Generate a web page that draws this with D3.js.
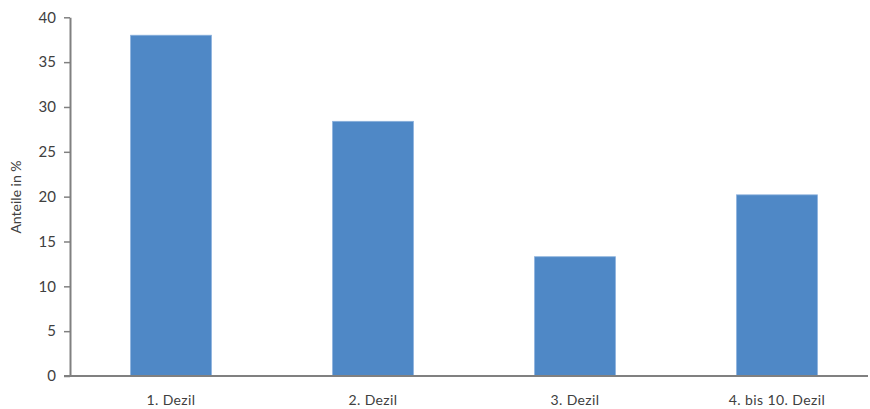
<!DOCTYPE html>
<html><head><meta charset="utf-8">
<script src="https://cdn.jsdelivr.net/npm/d3@7"></script>
<style>body{margin:0;background:#fff}svg{display:block}text{font-family:"Lato","Open Sans",sans-serif;fill:#404040}</style>
</head><body><svg id="c" width="870" height="409"></svg>
<script>
const categories = ["1. Dezil", "2. Dezil", "3. Dezil", "4. bis 10. Dezil"];
const values = [38.0, 28.4, 13.3, 20.2];
const yTicks = [0, 5, 10, 15, 20, 25, 30, 35, 40];
const yLabel = "Anteile in %";

const svg = d3.select("#c");
const x = d3.scaleBand().domain(categories).range([70, 878]).paddingInner(0.6).paddingOuter(0.3);
const y = d3.scaleLinear().domain([0, 40]).range([376, 17.3]);

svg.selectAll("rect.bar").data(values).join("rect").attr("class","bar")
  .attr("x", (d,i) => x(categories[i])).attr("width", x.bandwidth())
  .attr("y", d => y(d)).attr("height", d => y(0) - y(d))
  .attr("fill", "#4F88C6").attr("stroke", "#8AB0DC").attr("stroke-width", 0.8);

const ya = svg.append("g").attr("transform", "translate(70,0)")
  .call(d3.axisLeft(y).tickValues(yTicks).tickSize(6).tickPadding(8).tickSizeOuter(0));
ya.select(".domain").attr("stroke", "#808080").attr("stroke-width", 2);
ya.selectAll(".tick line").attr("stroke", "#808080").attr("stroke-width", 1.5);
ya.selectAll(".tick text").attr("font-size", 15).attr("fill", "#404040").style("font-family", "Lato, sans-serif");

svg.append("line").attr("x1", 64).attr("x2", 868).attr("y1", y(0)).attr("y2", y(0))
  .attr("stroke", "#808080").attr("stroke-width", 2);

svg.selectAll("text.xl").data(categories).join("text").attr("class","xl")
  .attr("x", d => x(d) + x.bandwidth()/2).attr("y", 405)
  .attr("text-anchor", "middle").attr("font-size", 14).attr("letter-spacing", 0.4).text(d => d);

svg.append("text").attr("transform", "translate(21,197) rotate(-90)")
  .attr("text-anchor", "middle").attr("font-size", 14).text(yLabel);
</script></body></html>
